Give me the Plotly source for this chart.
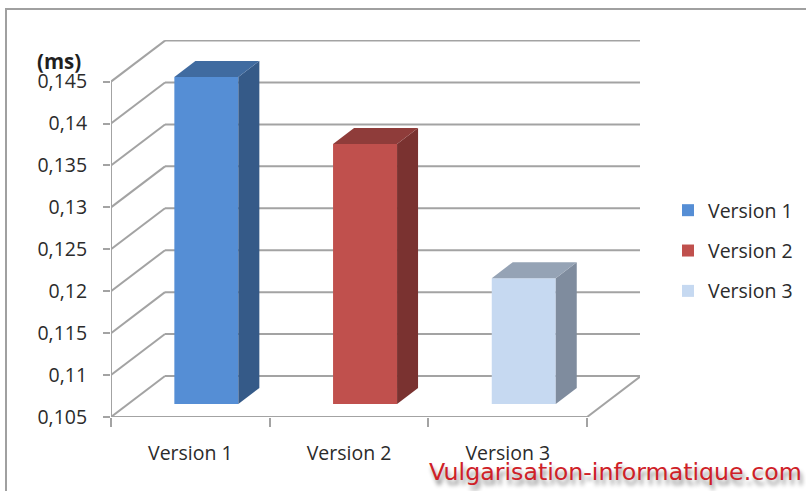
import plotly.graph_objects as go

# Chart data
categories = ["Version 1", "Version 2", "Version 3"]
values = [0.144, 0.136, 0.12]
y_ticks = [0.105, 0.11, 0.115, 0.12, 0.125, 0.13, 0.135, 0.14, 0.145]
y_tick_labels = ["0,105", "0,11", "0,115", "0,12", "0,125", "0,13", "0,135", "0,14", "0,145"]
front_colors = ["#558ed5", "#c0504d", "#c6d9f1"]
top_colors = ["#406ba0", "#8f3c3a", "#95a3b5"]
side_colors = ["#355a88", "#7a3230", "#7f8c9e"]

WIDTH, HEIGHT = 806, 491
LEFT, RIGHT, TOP, BOTTOM = 111, 166, 40, 74
CAT_PX = 158.7
VAL_PX = 8385.0
BASE = 0.105

# Pseudo-3D depth, converted to axis units
wall_dx = 54 / CAT_PX
wall_dy = 41 / VAL_PX
bar_shift_x = 16 / CAT_PX
bar_shift_y = 13 / VAL_PX
bar_dx = 21 / CAT_PX
bar_dy = 16 / VAL_PX
bar_width = 64 / CAT_PX

x_max = (WIDTH - LEFT - RIGHT) / CAT_PX
y_max = BASE + (HEIGHT - TOP - BOTTOM) / VAL_PX
n = len(categories)


def paper_x(px):
    return (px - LEFT) / (WIDTH - LEFT - RIGHT)


def paper_y(px):
    return (HEIGHT - BOTTOM - px) / (HEIGHT - TOP - BOTTOM)


GRID = dict(color="#a3a3a3", width=2)


def seg(x0, y0, x1, y1):
    return dict(type="line", xref="x", yref="y", x0=x0, y0=y0, x1=x1, y1=y1,
                line=GRID, layer="below")


shapes = [
    # Outer chart frame
    dict(type="rect", xref="paper", yref="paper", x0=paper_x(6), y0=paper_y(520),
         x1=paper_x(840), y1=paper_y(9), line=dict(color="#a0a0a0", width=2),
         fillcolor="white", layer="below"),
    # Front axis lines and the floor edge
    seg(0, BASE, 0, y_ticks[-1]),
    seg(0, BASE, n, BASE),
    seg(n, BASE, n + wall_dx, BASE + wall_dy),
]
# Side-wall diagonals and back-wall gridlines
for v in y_ticks:
    shapes.append(seg(0, v, wall_dx, v + wall_dy))
    shapes.append(seg(wall_dx, v + wall_dy, n + wall_dx, v + wall_dy))

fig = go.Figure()

for i, (name, v) in enumerate(zip(categories, values)):
    centre = i + 0.5 + bar_shift_x
    left, right = centre - bar_width / 2, centre + bar_width / 2
    foot = BASE + bar_shift_y
    head = v + bar_shift_y
    fig.add_trace(go.Bar(
        x=[centre], y=[v - BASE], base=[foot], width=[bar_width], name=name,
        legendgroup=name, marker=dict(color=front_colors[i], line=dict(width=0)),
    ))
    fig.add_trace(go.Scatter(
        x=[right, right + bar_dx, right + bar_dx, right, right],
        y=[foot, foot + bar_dy, head + bar_dy, head, foot],
        mode="lines", fill="toself", fillcolor=side_colors[i],
        line=dict(width=0), showlegend=False, legendgroup=name, hoverinfo="skip",
    ))
    fig.add_trace(go.Scatter(
        x=[left, left + bar_dx, right + bar_dx, right, left],
        y=[head, head + bar_dy, head + bar_dy, head, head],
        mode="lines", fill="toself", fillcolor=top_colors[i],
        line=dict(width=0), showlegend=False, legendgroup=name, hoverinfo="skip",
    ))

TEXT = dict(family="Open Sans", size=19.5, color="#2b2b2b")

fig.update_layout(
    width=WIDTH, height=HEIGHT,
    margin=dict(l=LEFT, r=RIGHT, t=TOP, b=BOTTOM, pad=0, autoexpand=False),
    paper_bgcolor="white", plot_bgcolor="rgba(0,0,0,0)",
    barmode="overlay", font=TEXT, shapes=shapes,
    xaxis=dict(
        range=[0, x_max], tickmode="array", tickvals=[i + 0.5 for i in range(n)],
        ticktext=categories, ticks="", showgrid=False, zeroline=False, showline=False,
        ticklabelstandoff=22, tickfont=TEXT,
        minor=dict(tickmode="array", tickvals=list(range(n + 1)), ticks="outside",
                   ticklen=9, tickwidth=2, tickcolor="#a3a3a3", showgrid=False),
    ),
    yaxis=dict(
        range=[BASE, y_max], tickmode="array", tickvals=y_ticks, ticktext=y_tick_labels,
        ticks="outside", ticklen=7, tickwidth=2, tickcolor="#a3a3a3",
        showgrid=False, zeroline=False, showline=False, tickfont=TEXT,
        ticklabelstandoff=12,
    ),
    legend=dict(
        x=paper_x(668), y=paper_y(191), xanchor="left", yanchor="top",
        font=TEXT, tracegroupgap=12, bgcolor="rgba(0,0,0,0)",
    ),
    annotations=[
        dict(text="<b>(ms)</b>", xref="paper", yref="paper", x=paper_x(59), y=paper_y(61),
             xanchor="center", yanchor="middle", showarrow=False,
             font=dict(family="Open Sans", size=20.5, color="#1f1f1f")),
        dict(text="Vulgarisation-informatique.com", xref="paper", yref="paper",
             x=paper_x(615), y=paper_y(472), xanchor="center", yanchor="middle",
             showarrow=False,
             font=dict(family="DejaVu Sans", size=23.7, color="#cf2027",
                       shadow="2px 5px 4px #8a8a8a")),
    ],
)

fig.write_html("out.html")
